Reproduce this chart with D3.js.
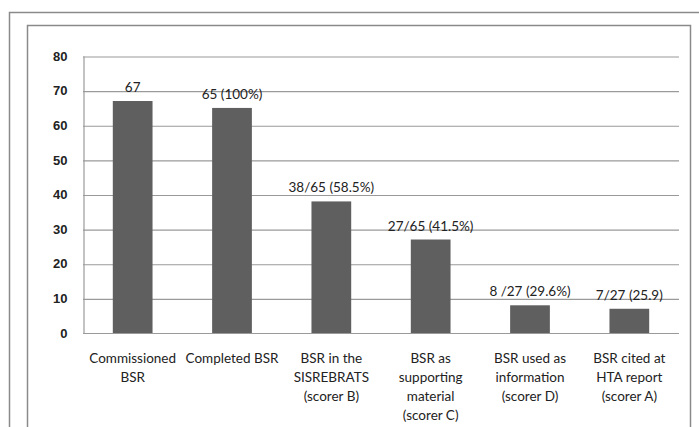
<!DOCTYPE html>
<html>
<head>
<meta charset="utf-8">
<script src="https://cdn.jsdelivr.net/npm/d3@7"></script>
<style>
  body { margin: 0; background: #fff; }
  svg { display: block; font-family: Lato, "Open Sans", sans-serif; }
</style>
</head>
<body>
<svg id="chart" width="699" height="427"></svg>
<script>
const categories = [
  ["Commissioned", "BSR"],
  ["Completed BSR"],
  ["BSR in the", "SISREBRATS", "(scorer B)"],
  ["BSR as", "supporting", "material", "(scorer C)"],
  ["BSR used as", "information", "(scorer D)"],
  ["BSR cited at", "HTA report", "(scorer A)"]
]
const values = [67, 65, 38, 27, 8, 7]
const valueLabels = ["67", "65 (100%)", "38/65 (58.5%)", "27/65 (41.5%)", "8 /27 (29.6%)", "7/27 (25.9)"]
const yTicks = [0, 10, 20, 30, 40, 50, 60, 70, 80]

const svg = d3.select("#chart")
const frameColor = "#8a8a8a"
const lineColor = "#9a9a9a"

// outer frames (they run off the bottom/right of the picture)
svg.append("path")
    .attr("d", "M9.5,427 V12.5 H699")
    .attr("fill", "none").attr("stroke", frameColor).attr("stroke-width", 1.5)
svg.append("path")
    .attr("d", "M27.5,427 V25.5 H690.5 V427")
    .attr("fill", "none").attr("stroke", frameColor).attr("stroke-width", 1.5)

const margin = { left: 83, right: 679, top: 56, bottom: 333 }

const x = d3.scaleBand()
    .domain(d3.range(values.length))
    .range([margin.left, margin.right])
    .paddingInner(0.6)
    .paddingOuter(0.3)

const y = d3.scaleLinear()
    .domain([0, 80])
    .range([margin.bottom, margin.top])

// gridlines, drawn as an axis with full-width ticks
const grid = svg.append("g")
    .attr("class", "grid")
    .attr("transform", `translate(${margin.left},0.5)`)
    .call(d3.axisLeft(y).tickValues(yTicks.slice(1)).tickSize(-(margin.right - margin.left)).tickFormat(""))
grid.select(".domain").remove()
grid.selectAll(".tick line").attr("stroke", lineColor).attr("stroke-width", 1.2)

// y axis
const yAxis = svg.append("g")
    .attr("transform", `translate(${margin.left + 0.5},0)`)
    .call(d3.axisLeft(y).tickValues(yTicks).tickSize(0).tickPadding(16))
yAxis.select(".domain").attr("stroke", lineColor).attr("stroke-width", 1.2)
yAxis.selectAll("text")
    .attr("font-size", 13).attr("font-weight", "bold").attr("fill", "#222")

// baseline
svg.append("line")
    .attr("x1", margin.left).attr("x2", margin.right)
    .attr("y1", margin.bottom + 0.5).attr("y2", margin.bottom + 0.5)
    .attr("stroke", lineColor).attr("stroke-width", 1.2)

// bars
svg.append("g")
    .selectAll("rect")
    .data(values)
    .join("rect")
    .attr("x", (d, i) => x(i))
    .attr("width", x.bandwidth())
    .attr("y", d => y(d))
    .attr("height", d => y(0) - y(d))
    .attr("fill", "#5f5f5f")

// value labels
svg.append("g")
    .selectAll("text")
    .data(values)
    .join("text")
    .attr("x", (d, i) => x(i) + x.bandwidth() / 2)
    .attr("y", d => y(d) - 9)
    .attr("text-anchor", "middle")
    .attr("font-size", 13.5)
    .attr("fill", "#222")
    .text((d, i) => valueLabels[i])

// category labels
const cat = svg.append("g")
    .selectAll("text")
    .data(categories)
    .join("text")
    .attr("x", (d, i) => x(i) + x.bandwidth() / 2)
    .attr("y", 363)
    .attr("text-anchor", "middle")
    .attr("font-size", 13.5)
    .attr("fill", "#222")
cat.selectAll("tspan")
    .data((d, i) => d.map(t => ({ t, i })))
    .join("tspan")
    .attr("x", d => x(d.i) + x.bandwidth() / 2)
    .attr("dy", (d, j) => j === 0 ? 0 : 19)
    .text(d => d.t)
</script>
</body>
</html>
